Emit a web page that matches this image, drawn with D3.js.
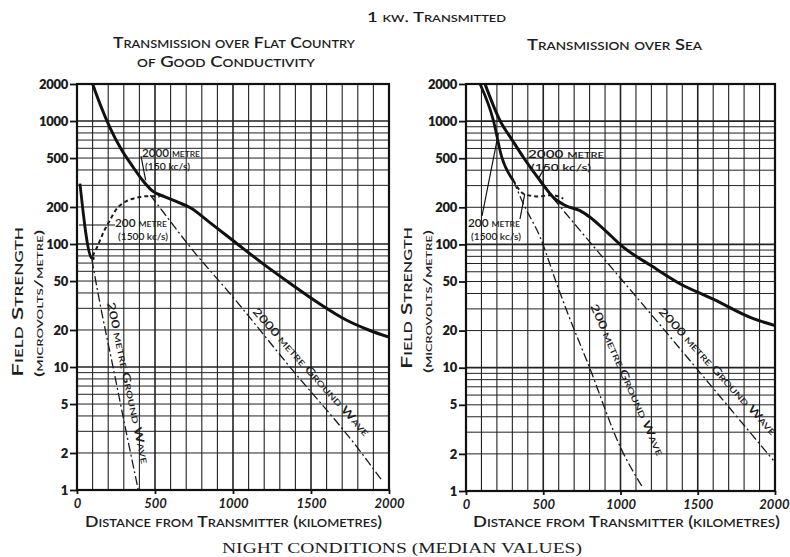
<!DOCTYPE html>
<html><head><meta charset="utf-8">
<script src="https://cdn.jsdelivr.net/npm/d3@7"></script>
<style>
body{margin:0;background:#fff}
svg{display:block}
text{font-family:Lato,'DejaVu Sans',sans-serif;fill:#1c1c1c}
</style>
</head><body>
<svg id="c" width="790" height="557"></svg>
<script>
// ---------- data (km, microvolts/metre) ----------
const xTickValues = [0, 500, 1000, 1500, 2000];
const xTickLabels = ["0","500","1000","1500","2000"];
const yTickValues = [1, 2, 5, 10, 20, 50, 100, 200, 500, 1000, 2000];
const yTickLabels = ["1","2","5","10","20","50","100","200","500","1000","2000"];

// Flat country of good conductivity
const flat2000Total = [[100,2000],[150,1350],[212,880],[280,600],[359,423],[420,330],[487,268],[560,243],[650,218],[724,198],[850,150],[1024,101],[1200,68],[1365,48],[1550,33],[1729,24],[1870,20],[2000,17.5]];
const flat200Near   = [[19,310],[94,77],[112,76]];
const flat200Sky    = [[100,80],[130,95],[170,125],[212,157],[250,190],[295,215],[350,232],[404,241],[450,245],[487,245],[530,243]];
const flat200Ground = [[95,75],[147,33],[231,10],[310,3.2],[393,1]];
const flat2000Ground= [[470,250],[560,177],[724,95],[1000,37],[1365,10],[1793,2.25],[1954,1.2]];

// Sea
const sea2000Total  = [[123,2000],[220,1010],[300,700],[371,509],[479,330],[565,241],[650,205],[738,188],[803,166],[900,130],[1018,95],[1200,67],[1385,48],[1600,36],[1860,25],[2000,22]];
const sea200Near    = [[91,2000],[177,1016],[231,512],[306,331]];
const sea200Sky     = [[306,331],[371,258],[420,248],[479,245],[530,250],[565,250],[630,235]];
const sea200Ground  = [[306,331],[371,214],[479,115],[587,48],[652,29],[800,10],[997,2.3],[1147,1.05]];
const sea2000Ground = [[565,236],[738,130],[1018,50],[1234,24],[1500,9.6],[1990,1.77]];

// ---------- drawing ----------
const svg = d3.select("#c");
svg.append("rect").attr("width",790).attr("height",557).attr("fill","#fff");

function txt(g, s, x, y, o={}) {
  const t = g.append("text").attr("x",x).attr("y",y).text(s)
    .attr("font-size", o.size||12)
    .attr("font-weight", o.weight||600)
    .attr("text-anchor", o.anchor||"start");
  if (o.sc) t.style("font-variant","small-caps");
  if (o.len) t.attr("textLength", o.len).attr("lengthAdjust","spacingAndGlyphs");
  if (o.rot!==undefined) t.attr("transform",`rotate(${o.rot},${x},${y})`);
  if (o.family) t.style("font-family", o.family);
  return t;
}

const panels = [
  {x0:77, x1:389, yb:490, yt:84,
   total2000: flat2000Total, near200: flat200Near, sky200: flat200Sky, gw200: flat200Ground, gw2000: flat2000Ground},
  {x0:466, x1:775, yb:491, yt:84,
   total2000: sea2000Total, near200: sea200Near, sky200: sea200Sky, gw200: sea200Ground, gw2000: sea2000Ground}
];

panels.forEach((p, i) => {
  const g = svg.append("g");
  const x = d3.scaleLinear().domain([0,2000]).range([p.x0,p.x1]);
  const y = d3.scaleLog().domain([1,2000]).range([p.yb,p.yt]);
  p.x = x; p.y = y;

  // grid verticals
  d3.range(0,2001,100).forEach(v => {
    g.append("line").attr("x1",x(v)).attr("x2",x(v)).attr("y1",y(1)).attr("y2",y(2000))
      .attr("stroke","#222").attr("stroke-width", v%500===0 ? 1.6 : 1.1);
  });
  // grid horizontals
  const hv = [];
  [1,10,100,1000].forEach(k => d3.range(1,10).forEach(m => { if (m*k<=2000) hv.push(m*k); }));
  hv.forEach(v => {
    const major = [10,100,1000].includes(v);
    g.append("line").attr("x1",x(0)).attr("x2",x(2000)).attr("y1",y(v)).attr("y2",y(v))
      .attr("stroke","#222").attr("stroke-width", major ? 1.7 : 1.0);
  });
  // frame
  g.append("rect").attr("x",x(0)).attr("y",y(2000)).attr("width",x(2000)-x(0)).attr("height",y(1)-y(2000))
    .attr("fill","none").attr("stroke","#111").attr("stroke-width",2.2);

  // axes via d3
  const yAxis = d3.axisLeft(y).tickValues(yTickValues).tickFormat((d,j)=>yTickLabels[j]).tickSize(7).tickPadding(2);
  const ya = g.append("g").attr("transform",`translate(${x(0)},0)`).call(yAxis);
  ya.select(".domain").remove();
  ya.selectAll(".tick line").attr("stroke","#111").attr("stroke-width",1.8);
  ya.selectAll(".tick text").attr("font-size",13).attr("font-weight",800).attr("fill","#1c1c1c")
    .style("font-family","Lato,'DejaVu Sans',sans-serif").attr("letter-spacing","-0.3");

  const xAxis = d3.axisBottom(x).tickValues(xTickValues).tickFormat((d,j)=>xTickLabels[j]).tickSize(4).tickPadding(5);
  const xa = g.append("g").attr("transform",`translate(0,${y(1)})`).call(xAxis);
  xa.select(".domain").remove();
  xa.selectAll(".tick line").attr("stroke","#111").attr("stroke-width",1.8);
  xa.selectAll(".tick text").attr("font-size",13).attr("font-weight",700).attr("fill","#1c1c1c")
    .style("font-family","Lato,'DejaVu Sans',sans-serif").attr("font-style","italic");
  if (i===1) xa.selectAll(".tick").filter(d=>d===2000).select("text").attr("text-anchor","end").attr("dx",14);

  const line = d3.line().x(d=>x(d[0])).y(d=>y(d[1])).curve(d3.curveMonotoneX);
  const clipId = "clip"+i;
  svg.append("clipPath").attr("id",clipId).append("rect")
    .attr("x",x(0)).attr("y",y(2000)).attr("width",x(2000)-x(0)).attr("height",y(1)-y(2000));
  const cg = g.append("g").attr("clip-path",`url(#${clipId})`);

  cg.append("path").attr("d",line(p.gw2000)).attr("fill","none").attr("stroke","#1a1a1a")
    .attr("stroke-width",1.3).attr("stroke-dasharray","9,3,2,3");
  cg.append("path").attr("d",line(p.gw200)).attr("fill","none").attr("stroke","#1a1a1a")
    .attr("stroke-width",1.3).attr("stroke-dasharray","9,3,2,3");
  cg.append("path").attr("d",line(p.sky200)).attr("fill","none").attr("stroke","#1a1a1a")
    .attr("stroke-width",2.0).attr("stroke-dasharray","4,3");
  cg.append("path").attr("d",line(p.near200)).attr("fill","none").attr("stroke","#111")
    .attr("stroke-width",2.8);
  cg.append("path").attr("d",line(p.total2000)).attr("fill","none").attr("stroke","#111")
    .attr("stroke-width",3.0);

  // axis titles
  txt(g, "Distance from Transmitter (kilometres)", i===0?85:473, 527,
    {size:15, weight:600, sc:true, len: i===0?297:307});
  const yx = i===0 ? 23 : 412;
  txt(g, "Field Strength", yx, i===0?377:369, {size:16, weight:600, sc:true, rot:-90, len: i===0?150:142});
  txt(g, "(microvolts/metre)", yx+20, i===0?377:373, {size:12, weight:600, sc:true, rot:-90, len: i===0?147:143});
});

// curve labels
const L = panels[0], R = panels[1];
function curveLabel(a, b, x, y, w1, w2) {
  txt(svg, a, x, y, {size:11, weight:600, sc:true, len:w1});
  txt(svg, b, x+3, y+13, {size:10, weight:600, len:w2});
}
curveLabel("2000 metre", "(150 kc/s)", 142, 157, 58, 45);
curveLabel("200 metre", "(1500 kc/s)", 115, 227, 52, 50);
curveLabel("2000 metre", "(150 kc/s)", 528, 158, 76, 60);
curveLabel("200 metre", "(1500 kc/s)", 468, 227, 52, 50);

// leader lines
svg.append("line").attr("x1",L.x(12)).attr("y1",225).attr("x2",115).attr("y2",225).attr("stroke","#111").attr("stroke-width",1.2);
svg.append("line").attr("x1",L.x(440)).attr("y1",L.y(330)).attr("x2",141).attr("y2",156).attr("stroke","#111").attr("stroke-width",1.2);
svg.append("line").attr("x1",R.x(210)).attr("y1",R.y(800)).attr("x2",482).attr("y2",216).attr("stroke","#111").attr("stroke-width",1.2);
svg.append("line").attr("x1",R.x(380)).attr("y1",R.y(256)).attr("x2",520).attr("y2",219).attr("stroke","#111").attr("stroke-width",1.2);
svg.append("line").attr("x1",R.x(470)).attr("y1",R.y(345)).attr("x2",545).attr("y2",167).attr("stroke","#111").attr("stroke-width",1.2);

// rotated ground wave labels
txt(svg, "200 metre Ground Wave", 107, 303, {size:11, weight:600, sc:true, rot:78, len:165});
txt(svg, "2000 metre Ground Wave", 252, 312, {size:11, weight:600, sc:true, rot:48, len:168});
txt(svg, "200 metre Ground Wave", 590, 306, {size:11, weight:600, sc:true, rot:66, len:165});
txt(svg, "2000 metre Ground Wave", 658, 312, {size:11, weight:600, sc:true, rot:47.5, len:168});

// titles
txt(svg, "1 kw. Transmitted", 367, 22, {size:13, weight:600, sc:true, len:139});
txt(svg, "Transmission over Flat Country", 113, 48, {size:15, weight:600, sc:true, len:242});
txt(svg, "of Good Conductivity", 137, 67, {size:15, weight:600, sc:true, len:178});
txt(svg, "Transmission over Sea", 527, 50, {size:15, weight:600, sc:true, len:175});
txt(svg, "NIGHT CONDITIONS (MEDIAN VALUES)", 222, 553, {size:15, weight:400, len:360, family:"'Liberation Serif','DejaVu Serif',serif"});
</script>
</body></html>
